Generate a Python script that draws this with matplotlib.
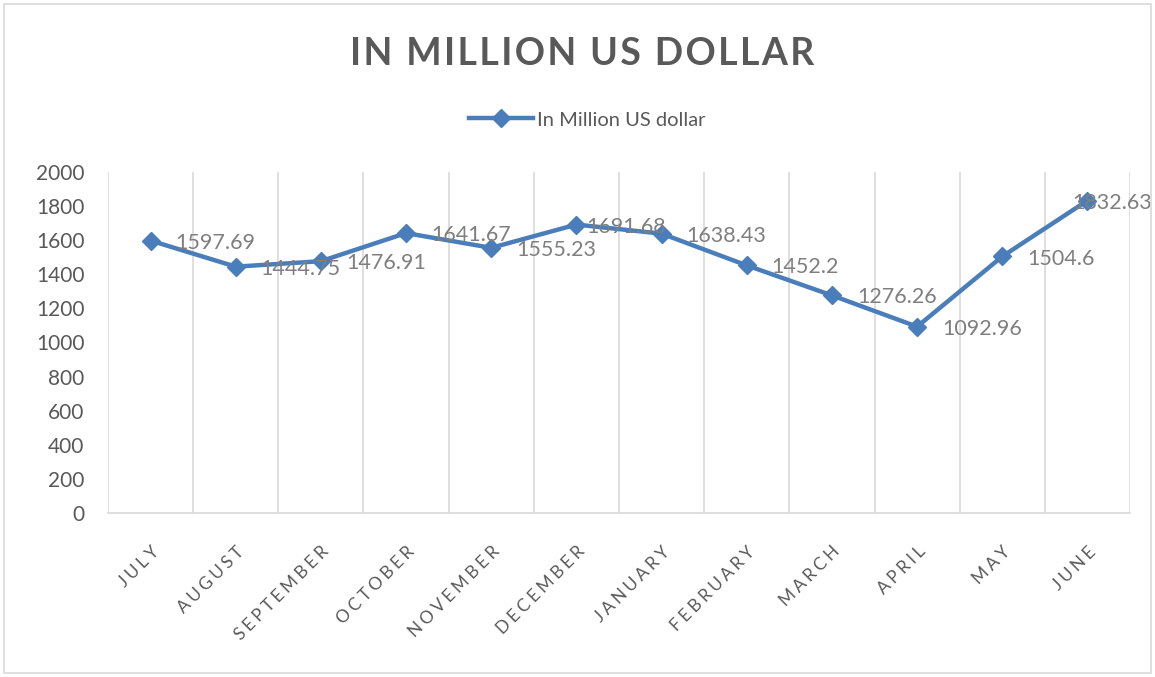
import matplotlib
matplotlib.use("Agg")
import matplotlib.pyplot as plt
from matplotlib.patches import Rectangle
from matplotlib.lines import Line2D

months = ["JULY", "AUGUST", "SEPTEMBER", "OCTOBER", "NOVEMBER", "DECEMBER",
          "JANUARY", "FEBRUARY", "MARCH", "APRIL", "MAY", "JUNE"]
values = [1597.69, 1444.75, 1476.91, 1641.67, 1555.23, 1691.68,
          1638.43, 1452.2, 1276.26, 1092.96, 1504.6, 1832.63]
value_labels = ["1597.69", "1444.75", "1476.91", "1641.67", "1555.23", "1691.68",
                "1638.43", "1452.2", "1276.26", "1092.96", "1504.6", "1832.63"]
yticks = [0, 200, 400, 600, 800, 1000, 1200, 1400, 1600, 1800, 2000]
series_name = "In Million US dollar"
title = "IN MILLION US DOLLAR"

BLUE = "#4a7ebb"
GRAY = "#595959"
GRID = "#d9d9d9"
FONT = ["Lato", "DejaVu Sans"]
HS = "\u200a"

def spaced(s, n=1):
    return (HS * n).join(list(s))

W, H = 1155, 677
fig = plt.figure(figsize=(W / 100, H / 100), dpi=100)
fig.patches.append(Rectangle((4 / W, 4 / H), (W - 8) / W, (H - 8) / H,
                             transform=fig.transFigure, fill=False,
                             edgecolor=GRID, lw=1.2))

ax = fig.add_axes([108 / W, 1 - 513 / H, (1130 - 108) / W, (513 - 172) / H])
x = list(range(len(months)))
ax.plot(x, values, color=BLUE, lw=3.2, marker="D", markersize=9,
        markerfacecolor=BLUE, markeredgecolor=BLUE, zorder=3)

ax.set_xlim(-0.5, len(months) - 0.5)
ax.set_ylim(0, 2000)
ax.set_yticks(yticks)
ax.set_yticklabels([str(v) for v in yticks], fontsize=15, color=GRAY, family=FONT)
ax.tick_params(axis="y", length=0, pad=17)

ax.set_xticks(x)
ax.set_xticklabels([spaced(m, 3) for m in months], rotation=45, ha="right",
                   va="top", rotation_mode="anchor", fontsize=12.5,
                   color=GRAY, family=FONT)
ax.tick_params(axis="x", length=0, pad=22)
ax.set_xticks([i - 0.5 for i in range(len(months) + 1)], minor=True)
ax.tick_params(axis="x", which="minor", length=0)
ax.grid(True, axis="x", which="minor", color=GRID, lw=1.2)
ax.grid(False, axis="x", which="major")
for s in ["top", "left", "right"]:
    ax.spines[s].set_visible(False)
ax.spines["bottom"].set_color(GRID)
ax.spines["bottom"].set_linewidth(1.2)

offsets = {5: 10, 11: -15}
for i, (v, lab) in enumerate(zip(values, value_labels)):
    dx = offsets.get(i, 25)
    ax.annotate(lab, (i, v), xytext=(dx * 0.72, -1.5), textcoords="offset points",
                ha="left", va="center", fontsize=15.5, color="#7f7f7f",
                family=FONT, zorder=4)

fig.text(582 / W, 1 - 54 / H, spaced(title, 1), ha="center", va="center",
         fontsize=27, fontweight="bold", color=GRAY, family=FONT)

handle = Line2D([0], [0], color=BLUE, lw=3.2, marker="D", markersize=9)
fig.legend([handle], [series_name], loc="center", bbox_to_anchor=(587 / W, 1 - 120 / H),
           frameon=False, prop={"family": FONT, "size": 14.5}, labelcolor=GRAY,
           handlelength=3.2, handletextpad=0.2)

fig.savefig("out.png", dpi=100, facecolor="white")
